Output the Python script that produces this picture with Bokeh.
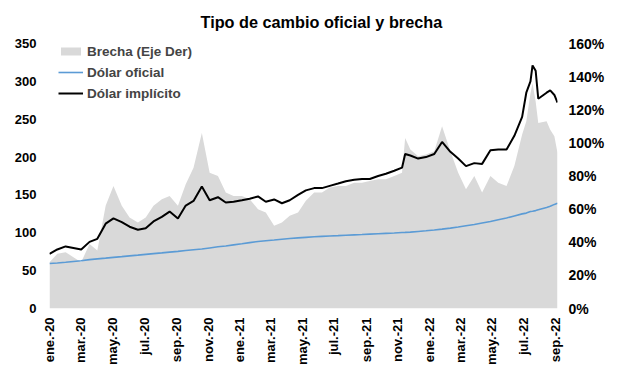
import pandas as pd
from math import pi
from bokeh.plotting import figure
from bokeh.models import (Range1d, LinearAxis, FixedTicker, PrintfTickFormatter,
                          Legend, LegendItem, Label)
from bokeh.embed import file_html
from bokeh.resources import INLINE

dates = [
    "2020-01-01", "2020-01-16", "2020-02-01", "2020-02-16", "2020-03-02", "2020-03-18",
    "2020-04-02", "2020-04-18", "2020-05-03", "2020-05-19", "2020-06-03", "2020-06-19",
    "2020-07-04", "2020-07-19", "2020-08-04", "2020-08-19", "2020-09-04", "2020-09-19",
    "2020-10-04", "2020-10-20", "2020-11-04", "2020-11-20", "2020-12-05", "2020-12-20",
    "2021-01-05", "2021-01-20", "2021-02-05", "2021-02-20", "2021-03-08", "2021-03-23",
    "2021-04-07", "2021-04-23", "2021-05-08", "2021-05-24", "2021-06-08", "2021-06-23",
    "2021-07-09", "2021-07-24", "2021-08-09", "2021-08-24", "2021-09-08", "2021-09-24",
    "2021-10-09", "2021-10-25", "2021-11-09", "2021-11-15", "2021-11-25", "2021-12-10",
    "2021-12-25", "2022-01-10", "2022-01-25", "2022-02-10", "2022-02-25", "2022-03-12",
    "2022-03-28", "2022-04-12", "2022-04-28", "2022-05-13", "2022-05-29", "2022-06-13",
    "2022-06-28", "2022-07-06", "2022-07-14", "2022-07-18", "2022-07-24", "2022-07-29",
    "2022-08-14", "2022-08-21", "2022-08-29", "2022-09-04",
]

dolar_implicito = [
    72, 78, 82, 80, 78, 88, 92, 112, 119, 114, 108, 104,
    106, 115, 121, 128, 119, 136, 142, 161, 143, 147, 140, 141,
    143, 145, 148, 141, 144, 139, 143, 150, 156, 159, 159, 162,
    165, 168, 170, 171, 171, 175, 178, 182, 186, 204, 202, 198,
    200, 204, 220, 207, 198, 188, 192, 191, 209, 210, 210, 228,
    253, 285, 300, 321, 314, 277, 285, 288, 282, 272,
]

dolar_oficial = [
    59.5, 60, 61, 62, 63, 64.5, 65.5, 66.5, 67.5, 68.5, 69.5, 70.5,
    71.5, 72.5, 73.5, 74.5, 75.5, 76.5, 77.5, 78.5, 80, 81.5, 82.5, 84,
    85.5, 87, 88.5, 89.5, 90.5, 91.5, 92.5, 93.3, 94, 94.7, 95.3, 95.8,
    96.3, 96.8, 97.3, 97.7, 98.2, 98.7, 99.2, 99.7, 100.3, 100.5, 100.9, 101.8,
    102.7, 103.7, 104.8, 106.2, 107.6, 109.3, 111, 113, 115, 117.3, 119.6, 122.3,
    125, 126, 128, 128.5, 129.3, 130.5, 133.5, 135, 137.5, 139,
]

brecha_pct = [
    28, 33, 34, 31, 28, 39, 35, 62, 74, 62, 55, 52,
    55, 62, 66, 68, 62, 75, 85, 106, 82, 80, 70, 68,
    68, 66, 60, 58, 50, 52, 56, 58, 65, 70, 70, 73,
    74, 74, 76, 76, 77, 78, 78, 80, 82, 103, 96, 92,
    93, 95, 110, 95, 82, 72, 80, 70, 80, 76, 74, 86,
    105, 113, 130, 136, 125, 112, 113, 108, 104, 94,
]

tick_dates = ["2020-01-01", "2020-03-01", "2020-05-01", "2020-07-01", "2020-09-01",
              "2020-11-01", "2021-01-01", "2021-03-01", "2021-05-01", "2021-07-01",
              "2021-09-01", "2021-11-01", "2022-01-01", "2022-03-01", "2022-05-01",
              "2022-07-01", "2022-09-01"]
tick_labels = ["ene.-20", "mar.-20", "may.-20", "jul.-20", "sep.-20", "nov.-20",
               "ene.-21", "mar.-21", "may.-21", "jul.-21", "sep.-21", "nov.-21",
               "ene.-22", "mar.-22", "may.-22", "jul.-22", "sep.-22"]

left_ticks = [0, 50, 100, 150, 200, 250, 300, 350]
right_ticks = [0, 20, 40, 60, 80, 100, 120, 140, 160]

title_text = "Tipo de cambio oficial y brecha"

x = pd.to_datetime(dates)
tick_ms = [int(pd.Timestamp(d).value // 10**6) for d in tick_dates]

FONT = "Liberation Sans"

# plot area spans the full height above the x axis; the value scale keeps
# its top tick (350 / 160%) 265 px above the baseline, leaving room for the title
FRAME_H = 308
SCALE_H = 265
left_top = left_ticks[-1] * FRAME_H / SCALE_H
right_top = right_ticks[-1] * FRAME_H / SCALE_H

p = figure(frame_width=508, frame_height=FRAME_H, x_axis_type="datetime",
           output_backend="svg", toolbar_location=None,
           x_range=Range1d(x[0], x[-1]), y_range=Range1d(0, left_top),
           min_border_left=49, min_border_right=58, min_border_top=0,
           min_border_bottom=58)
p.outline_line_color = None
p.grid.visible = False
p.background_fill_color = "white"

p.extra_y_ranges = {"pct": Range1d(0, right_top)}

area = p.varea(x=x, y1=0, y2=brecha_pct, color="#d9d9d9", y_range_name="pct")
l_of = p.line(x=x, y=dolar_oficial, line_color="#5b9bd5", line_width=1.6)
l_im = p.line(x=x, y=dolar_implicito, line_color="black", line_width=2)

title = Label(x=151, y=287, x_units="screen", y_units="screen", text=title_text,
              text_font=FONT, text_font_size="16.25px", text_font_style="bold",
              text_align="left", text_baseline="middle", text_color="black")
p.add_layout(title)

right = LinearAxis(y_range_name="pct")
p.add_layout(right, "right")

for ax in [p.xaxis[0], p.yaxis[0], right]:
    ax.axis_line_color = None
    ax.major_tick_line_color = None
    ax.minor_tick_line_color = None
    ax.major_tick_out = 0
    ax.major_tick_in = 0
    ax.minor_tick_out = 0
    ax.minor_tick_in = 0
    ax.major_label_text_font = FONT
    ax.major_label_text_font_size = "13px"
    ax.major_label_text_font_style = "bold"
    ax.major_label_text_color = "black"

p.yaxis[0].ticker = FixedTicker(ticks=left_ticks)
p.yaxis[0].major_label_standoff = 13
right.ticker = FixedTicker(ticks=right_ticks)
right.formatter = PrintfTickFormatter(format="%d%%")
right.major_label_text_font_size = "14px"
right.major_label_standoff = 11

p.xaxis[0].ticker = FixedTicker(ticks=tick_ms)
p.xaxis[0].major_label_overrides = {t: lab for t, lab in zip(tick_ms, tick_labels)}
p.xaxis[0].major_label_orientation = pi / 2
p.xaxis[0].major_label_standoff = 9

legend = Legend(items=[
    LegendItem(label="Brecha (Eje Der)", renderers=[area]),
    LegendItem(label="Dólar oficial", renderers=[l_of]),
    LegendItem(label="Dólar implícito", renderers=[l_im]),
], location=(9, 205))
legend.background_fill_alpha = 0
legend.border_line_color = None
legend.padding = 0
legend.margin = 0
legend.spacing = 1
legend.glyph_width = 25
legend.glyph_height = 10
legend.label_height = 20
legend.label_standoff = 4
legend.label_text_font = FONT
legend.label_text_font_size = "13.5px"
legend.label_text_font_style = "bold"
p.add_layout(legend)

open("out.html", "w").write(file_html(p, INLINE))
